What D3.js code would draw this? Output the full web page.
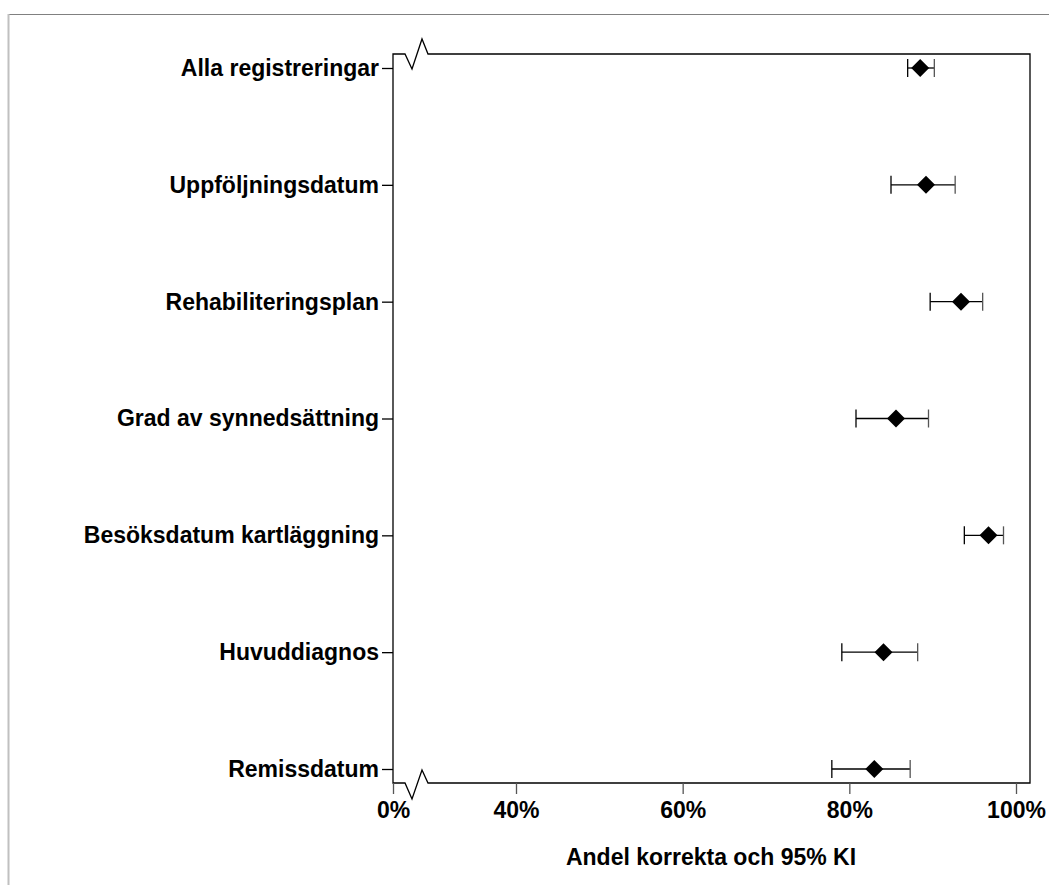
<!DOCTYPE html>
<html>
<head>
<meta charset="utf-8">
<script src="https://cdn.jsdelivr.net/npm/d3@7"></script>
<style>
  body { margin: 0; background: #fff; }
  text { font-family: "Liberation Sans", Arial, sans-serif; font-weight: bold; }
</style>
</head>
<body>
<div id="visualization"></div>
<script>
// values (percent)
const categories = [
  "Alla registreringar",
  "Uppföljningsdatum",
  "Rehabiliteringsplan",
  "Grad av synnedsättning",
  "Besöksdatum kartläggning",
  "Huvuddiagnos",
  "Remissdatum",
];
const estimate = [88.5, 89.2, 93.4, 85.6, 96.7, 84.1, 83.0];
const lower = [87.0, 85.0, 89.7, 80.8, 93.8, 79.1, 77.9];
const upper = [90.2, 92.7, 96.0, 89.5, 98.5, 88.2, 87.3];
const xTicks = [0, 40, 60, 80, 100];
const xTitle = "Andel korrekta och 95% KI";

const W = 1049, H = 885;
const box = { left: 393, right: 1030, top: 54, bottom: 783 };
const fontSize = 23;

const svg = d3
  .select("#visualization")
  .append("svg")
  .attr("width", W)
  .attr("height", H);

// outer frame
svg.append("line").attr("x1", 8).attr("x2", W).attr("y1", 14.5).attr("y2", 14.5)
  .attr("stroke", "#808080").attr("stroke-width", 1);
svg.append("line").attr("x1", 8.5).attr("x2", 8.5).attr("y1", 14).attr("y2", H)
  .attr("stroke", "#c0c0c0").attr("stroke-width", 2);

// broken axis: 0% sits at the left edge, then the scale runs 40..100
const x = d3.scaleLinear().domain([0, 40, 100]).range([box.left, 516, 1016]);
const y = d3.scalePoint().domain(categories).range([68, 769]);

const rows = categories.map((c, i) => ({ c, est: estimate[i], lo: lower[i], hi: upper[i] }));

// plot frame with zigzag breaks on top and bottom
const bx1 = 405, bx2 = 412, bx3 = 422, bx4 = 428;
const frame = d3.path();
frame.moveTo(box.left, box.top);
frame.lineTo(bx1, box.top);
frame.lineTo(bx2, box.top + 15);
frame.lineTo(bx3, box.top - 15);
frame.lineTo(bx4, box.top);
frame.lineTo(box.right, box.top);
frame.lineTo(box.right, box.bottom);
frame.lineTo(bx4, box.bottom);
frame.lineTo(bx3, box.bottom - 13);
frame.lineTo(bx2, box.bottom + 16);
frame.lineTo(bx1, box.bottom);
frame.lineTo(box.left, box.bottom);
frame.closePath();
svg.append("path").attr("d", frame.toString())
  .attr("fill", "none").attr("stroke", "#000").attr("stroke-width", 1.3);

// x axis
const xAxis = svg.append("g")
  .attr("transform", `translate(0, ${box.bottom})`)
  .call(d3.axisBottom(x).tickValues(xTicks).tickFormat((d) => d + "%")
    .tickSize(11).tickPadding(8));
xAxis.select(".domain").remove();
xAxis.selectAll("line").attr("stroke", "#555").attr("stroke-width", 1.3);
xAxis.selectAll("text").attr("font-size", fontSize).attr("fill", "#000")
  .style("font-family", "'Liberation Sans', Arial, sans-serif").style("font-weight", "bold");

// y axis
const yAxis = svg.append("g")
  .attr("transform", `translate(${box.left}, 0)`)
  .call(d3.axisLeft(y).tickSize(11).tickPadding(3));
yAxis.select(".domain").remove();
yAxis.selectAll("line").attr("stroke", "#000").attr("stroke-width", 1.3);
yAxis.selectAll("text").attr("font-size", fontSize).attr("fill", "#000")
  .style("font-family", "'Liberation Sans', Arial, sans-serif").style("font-weight", "bold");

// confidence intervals
const ci = svg.append("g");
ci.selectAll("line.ci")
  .data(rows)
  .join("line")
  .attr("class", "ci")
  .attr("x1", (d) => x(d.lo))
  .attr("x2", (d) => x(d.hi))
  .attr("y1", (d) => y(d.c))
  .attr("y2", (d) => y(d.c))
  .attr("stroke", "#000")
  .attr("stroke-width", 1.3);
ci.selectAll("line.caplo")
  .data(rows)
  .join("line")
  .attr("class", "caplo")
  .attr("x1", (d) => x(d.lo))
  .attr("x2", (d) => x(d.lo))
  .attr("y1", (d) => y(d.c) - 9)
  .attr("y2", (d) => y(d.c) + 9)
  .attr("stroke", "#000")
  .attr("stroke-width", 1.3);
ci.selectAll("line.caphi")
  .data(rows)
  .join("line")
  .attr("class", "caphi")
  .attr("x1", (d) => x(d.hi))
  .attr("x2", (d) => x(d.hi))
  .attr("y1", (d) => y(d.c) - 9)
  .attr("y2", (d) => y(d.c) + 9)
  .attr("stroke", "#555")
  .attr("stroke-width", 1.3);

// diamonds for the estimate
svg.append("g")
  .selectAll("path")
  .data(rows)
  .join("path")
  .attr("d", "M0,-9L9,0L0,9L-9,0Z")
  .attr("transform", (d) => `translate(${x(d.est)}, ${y(d.c)})`)
  .attr("fill", "#000");

// axis title
svg.append("text")
  .attr("x", 711)
  .attr("y", 865)
  .attr("text-anchor", "middle")
  .attr("font-size", fontSize)
  .text(xTitle);
</script>
</body>
</html>
